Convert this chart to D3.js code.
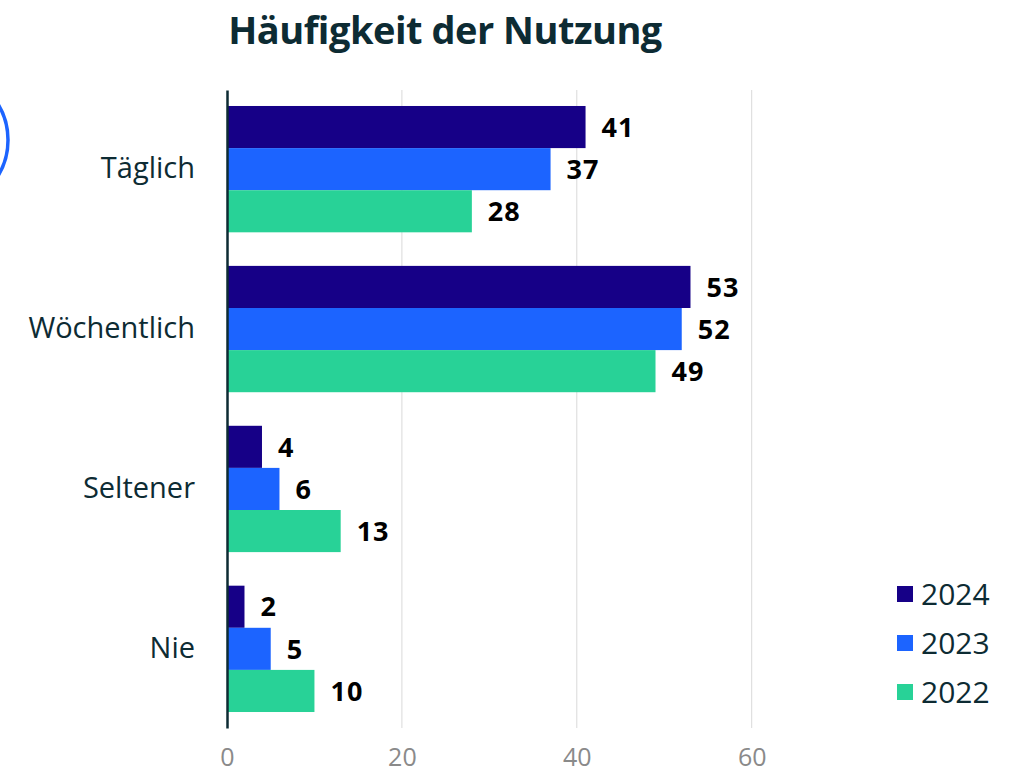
<!DOCTYPE html>
<html><head><meta charset="utf-8">
<script src="https://cdn.jsdelivr.net/npm/d3@7"></script>
<style>body{margin:0;background:#fff;overflow:hidden}svg{display:block}</style>
</head><body><svg id="c" width="1017" height="775"></svg>
<script>
const categories = ["Täglich", "Wöchentlich", "Seltener", "Nie"];
const series = ["2024", "2023", "2022"];
const values2024 = [41, 53, 4, 2];
const values2023 = [37, 52, 6, 5];
const values2022 = [28, 49, 13, 10];
const tickValues = [0, 20, 40, 60];
const colors = ["#160087", "#1c64ff", "#28d297"];
const title = "Häufigkeit der Nutzung";

const allValues = [values2024, values2023, values2022];
const svg = d3.select("#c");
const font = "'Open Sans', sans-serif";
const dark = "#0d2b33";

const x = d3.scaleLinear().domain([0, 80]).range([227, 926.6]);
const y = d3.scaleBand().domain(categories).range([90, 728]).paddingInner(0.21).paddingOuter(0.1);
const ys = d3.scaleBand().domain(series).range([0, y.bandwidth()]);

// decorative circle
svg.append("circle").attr("cx", -60).attr("cy", 140).attr("r", 68)
  .attr("fill", "none").attr("stroke", "#1c64ff").attr("stroke-width", 3.5);

// title
svg.append("text").attr("x", 445).attr("y", 44).attr("text-anchor", "middle")
  .attr("font-family", font).attr("font-weight", 700).attr("font-size", 38)
  .attr("letter-spacing", -0.5)
  .attr("fill", dark).text(title);

// grid
svg.append("g").selectAll("line").data(tickValues.filter(d => d > 0)).join("line")
  .attr("x1", d => x(d)).attr("x2", d => x(d)).attr("y1", 90).attr("y2", 728)
  .attr("stroke", "#d9d9d9").attr("stroke-width", 1);

// x axis tick labels
const xa = svg.append("g").attr("transform", "translate(0,728)")
  .call(d3.axisBottom(x).tickValues(tickValues).tickSize(0).tickPadding(20));
xa.select(".domain").remove();
xa.selectAll("text").attr("font-family", font).attr("font-size", 25).attr("fill", "#8a8a8a");

// bars
categories.forEach((c, ci) => {
  const g = svg.append("g").attr("transform", `translate(0,${y(c)})`);
  g.selectAll("rect").data(series).join("rect")
    .attr("x", x(0)).attr("y", s => ys(s))
    .attr("width", (s, si) => x(allValues[si][ci]) - x(0))
    .attr("height", ys.bandwidth())
    .attr("fill", (s, si) => colors[si]);
  g.selectAll("text").data(series).join("text")
    .attr("x", (s, si) => x(allValues[si][ci]) + 16)
    .attr("y", s => ys(s) + ys.bandwidth() / 2)
    .attr("dy", "0.36em")
    .attr("font-family", font).attr("font-weight", 700).attr("font-size", 27)
    .attr("letter-spacing", 1)
    .attr("fill", "#000")
    .text((s, si) => allValues[si][ci]);
});

// y axis
const ya = svg.append("g").attr("transform", "translate(227,0)")
  .call(d3.axisLeft(y).tickSize(0).tickPadding(32));
ya.select(".domain").attr("stroke", dark).attr("stroke-width", 2.5);
ya.selectAll("text").attr("font-family", font).attr("font-size", 29).attr("fill", dark);

// legend
const lg = svg.append("g");
series.forEach((s, i) => {
  const cy = 594 + i * 49;
  lg.append("rect").attr("x", 897).attr("y", cy - 8).attr("width", 16).attr("height", 16).attr("fill", colors[i]);
  lg.append("text").attr("x", 921).attr("y", cy).attr("dy", "0.36em")
    .attr("font-family", font).attr("font-size", 30).attr("fill", dark).text(s);
});
</script></body></html>
